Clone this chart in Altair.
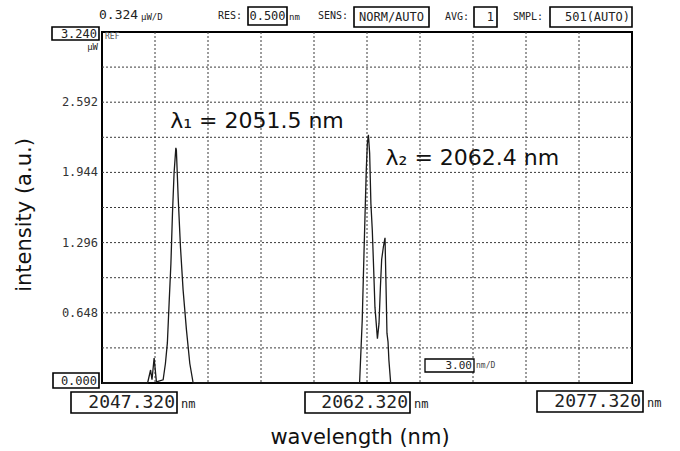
import altair as alt
import pandas as pd

# ---- spectrum trace (wavelength in nm, intensity in a.u.) ----
wavelength_nm = [
    2047.32, 2049.90, 2050.07, 2050.15, 2050.27, 2050.40,
    2050.78, 2050.91, 2051.02, 2051.12, 2051.22, 2051.31, 2051.40, 2051.50,
    2051.53, 2051.63, 2051.76, 2051.91, 2052.10, 2052.29, 2052.48,
    2061.90, 2062.05, 2062.15, 2062.20, 2062.28, 2062.34, 2062.40, 2062.47,
    2062.54, 2062.62, 2062.70, 2062.77, 2062.91, 2063.00, 2063.08, 2063.15,
    2063.25, 2063.34, 2063.39, 2063.45, 2063.51, 2063.56, 2063.66,
    2077.32,
]
intensity = [
    0.00, 0.00, 0.12, 0.03, 0.23, 0.01,
    0.03, 0.18, 0.37, 0.74, 1.10, 1.57, 1.94, 2.17,
    2.15, 1.72, 1.26, 0.86, 0.49, 0.18, 0.00,
    0.00, 0.58, 1.20, 1.50, 1.97, 2.21, 2.29, 2.12,
    1.66, 1.41, 1.04, 0.70, 0.41, 0.55, 0.89, 1.14,
    1.26, 1.34, 0.95, 0.46, 0.38, 0.21, 0.00,
    0.00,
]

# ---- axes: 10 divisions each ----
x_start, x_stop = 2047.32, 2077.32
y_top = 3.240
x_grid = [2050.32, 2053.32, 2056.32, 2059.32, 2062.32, 2065.32, 2068.32, 2071.32, 2074.32]
y_grid = [0.324, 0.648, 0.972, 1.296, 1.620, 1.944, 2.268, 2.592, 2.916]
y_labels = [0.648, 1.296, 1.944, 2.592]

# ---- peak annotations ----
peak_text = ["λ\u2081 = 2051.5 nm", "λ\u2082 = 2062.4 nm"]
peak_anchor_nm = [2051.18, 2063.37]
peak_anchor_int = [2.354, 2.01]

# ---- instrument readouts ----
header_vals = ["0.500", "NORM/AUTO", "1", "501(AUTO)"]

W, H = 530, 351
OX, OY = 102, 32  # plot origin inside the page

x_scale = alt.Scale(domain=[x_start, x_stop], nice=False, zero=False)
y_scale = alt.Scale(domain=[0, y_top], nice=False, zero=True)

MONO = "DejaVu Sans Mono"
SANS = "DejaVu Sans"

trace_df = pd.DataFrame({"wl": wavelength_nm, "I": intensity})
layers = []

# grid
layers.append(
    alt.Chart(pd.DataFrame({"g": x_grid})).mark_rule(
        color="#3a3a3a", strokeWidth=1, strokeDash=[2, 2]
    ).encode(x=alt.X("g:Q", scale=x_scale, axis=None))
)
layers.append(
    alt.Chart(pd.DataFrame({"g": y_grid})).mark_rule(
        color="#3a3a3a", strokeWidth=1, strokeDash=[2, 2]
    ).encode(y=alt.Y("g:Q", scale=y_scale, axis=None))
)

# spectrum
layers.append(
    alt.Chart(trace_df).mark_line(color="#1a1a1a", strokeWidth=1.3).encode(
        x=alt.X("wl:Q", scale=x_scale, axis=None),
        y=alt.Y("I:Q", scale=y_scale, axis=None),
    )
)

# y tick labels
lab_df = pd.DataFrame({"v": y_labels, "t": [f"{v:.3f}" for v in y_labels]})
layers.append(
    alt.Chart(lab_df).mark_text(
        align="right", baseline="middle", font=MONO, fontSize=12, color="#333"
    ).encode(y=alt.Y("v:Q", scale=y_scale, axis=None), x=alt.value(-4), text="t:N")
)

# peak annotations
ann_df = pd.DataFrame({"wl": peak_anchor_nm, "I": peak_anchor_int, "t": peak_text})
layers.append(
    alt.Chart(ann_df).mark_text(
        align="left", baseline="alphabetic", font=SANS, fontSize=22, color="#111"
    ).encode(
        x=alt.X("wl:Q", scale=x_scale, axis=None),
        y=alt.Y("I:Q", scale=y_scale, axis=None),
        text="t:N",
    )
)


def box(x0, y0, x1, y1, sw=1.6):
    return alt.Chart(pd.DataFrame({"k": [0]})).mark_rect(
        fill="white", stroke="black", strokeWidth=sw
    ).encode(
        x=alt.value(x0 - OX), x2=alt.value(x1 - OX),
        y=alt.value(y0 - OY), y2=alt.value(y1 - OY),
    )


def label(text, px, py, size, align="left", font=MONO, color="#222", angle=0):
    kw = dict(align=align, baseline="middle", font=font, fontSize=size, color=color, text=text)
    if angle:
        kw["angle"] = angle
    return alt.Chart(pd.DataFrame({"k": [0]})).mark_text(**kw).encode(
        x=alt.value(px - OX), y=alt.value(py - OY)
    )


# boxed scale readouts
layers += [
    box(52, 27, 99, 40), label("3.240", 97, 34, 12, "right"),
    label("μW", 98, 47, 9, "right"),
    label("REF", 105, 37, 8, "left", color="#555"),
    box(53, 373, 99, 388), label("0.000", 97, 381, 12, "right"),
    box(71, 392, 177, 413), label("2047.320", 175, 403, 18, "right"),
    label("nm", 181, 404, 12),
    box(305, 392, 410, 413), label("2062.320", 408, 403, 18, "right"),
    label("nm", 414, 404, 12),
    box(537, 391, 643, 412), label("2077.320", 641, 402, 18, "right"),
    label("nm", 647, 403, 12),
    box(425, 359, 474, 372, 1.3), label("3.00", 472, 366, 11, "right"),
    label("nm/D", 476, 366, 8, color="#444"),
]

# header line
layers += [
    label("0.324", 99, 15, 13),
    label("μW/D", 141, 17, 9),
    label("RES:", 218, 16, 10),
    box(248, 7, 287, 25), label(header_vals[0], 267.5, 16, 12, "center"),
    label("nm", 289, 17, 9),
    label("SENS:", 318, 16, 10),
    box(354, 7, 429, 27), label(header_vals[1], 391.5, 17, 12, "center"),
    label("AVG:", 445, 17, 10),
    box(474, 7, 497, 27), label(header_vals[2], 494, 17, 12, "right"),
    label("SMPL:", 513, 17, 10),
    box(550, 7, 632, 27), label(header_vals[3], 630, 17, 12, "right"),
]

# axis titles
layers += [
    label("intensity (a.u.)", 25, 215, 21, "center", font=SANS, color="#111", angle=270),
    label("wavelength (nm)", 360, 438, 21, "center", font=SANS, color="#111"),
]

chart = alt.layer(*layers).properties(
    width=W,
    height=H,
    padding={"left": OX, "top": OY, "right": 680 - OX - W, "bottom": 451 - OY - H},
    autosize=alt.AutoSizeParams(type="none"),
    background="white",
).configure_view(stroke="black", strokeWidth=2)

chart.save("out.html", embed_options={"renderer": "svg", "actions": False})
